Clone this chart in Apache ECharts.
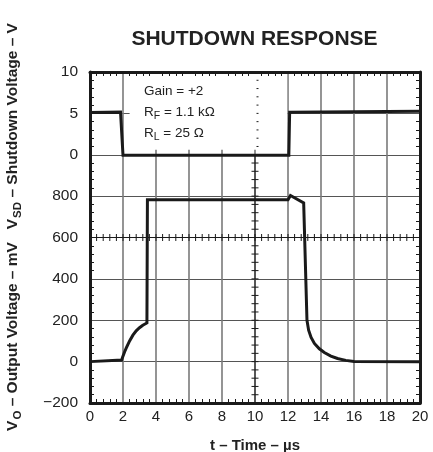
<!DOCTYPE html>
<html><head><meta charset="utf-8">
<script src="https://cdn.jsdelivr.net/npm/echarts@6/dist/echarts.min.js"></script>
<style>html,body{margin:0;padding:0;background:#fff}#c{width:433px;height:452px}</style>
</head><body><div id="c"></div>
<script>
// ---- data ----
const timeRange = [0, 20];            // µs
const timeStep = 2;
const voRange = [-200, 1400];         // mV scale (labels shown -200..800)
const voStep = 200;
const voLabelMax = 800;
const vsdRange = [-30, 10];           // V scale (labels shown 0..10)
const vsdStep = 5;
const vsdLabelMin = 0;
const centerTime = 10;
const centerMV = 600;
// shutdown voltage trace [t (µs), V]
const vsdData = [[0,5.12],[1.85,5.15],[2.0,-0.05],[12.05,-0.05],[12.1,5.15],[20,5.27]];
// output voltage trace [t (µs), mV]
const voData = [[0,0],[1.92,8],[1.98,22],[2.1,48],[2.2,66],[2.4,100],[2.6,128],[2.8,149],[3.0,164],[3.2,176],[3.45,187],
  [3.48,782],[12.0,782],[12.15,803],[12.95,767],[13.15,200],[13.25,152],[13.4,117],[13.6,88],[13.9,62],[14.2,44],
  [14.6,27],[15.0,15],[15.5,6],[16.0,1],[20,0]];
const titleText = 'SHUTDOWN RESPONSE';
const xTitle = 't – Time – µs';

const FONT = '"Liberation Sans", Arial, Helvetica, sans-serif';
const INK = '#1a1a1a';
const GRIDC = '#7a7a7a';

const chart = echarts.init(document.getElementById('c'), null, {renderer:'canvas'});
const frameLine = {show:true, onZero:false, lineStyle:{color:INK, width:3}};
const minor = {show:true, splitNumber:5, length:4, lineStyle:{color:INK, width:1}};
const option = {
  animation:false,
  backgroundColor:'#fff',
  grid:{left:90, right:13, top:72, bottom:49, containLabel:false},
  xAxis:[
    {type:'value', min:timeRange[0], max:timeRange[1], interval:timeStep, position:'bottom', z:1,
     axisLine:frameLine, axisTick:{show:false, inside:true}, minorTick:minor,
     axisLabel:{color:'#222', fontFamily:FONT, fontSize:15, margin:6},
     splitLine:{show:true, showMinLine:false, showMaxLine:false, lineStyle:{color:GRIDC, width:1.6}}},
    {type:'value', min:timeRange[0], max:timeRange[1], interval:timeStep, position:'top', z:6,
     axisLine:frameLine, axisTick:{show:false, inside:true}, minorTick:minor,
     axisLabel:{show:false}, splitLine:{show:false}}
  ],
  yAxis:[
    {type:'value', min:voRange[0], max:voRange[1], interval:voStep, position:'left', z:1,
     axisLine:frameLine, axisTick:{show:false, inside:true}, minorTick:minor,
     axisLabel:{color:'#222', fontFamily:FONT, fontSize:15.5, margin:12,
       formatter:v => v > voLabelMax ? '' : (v < 0 ? '−' + Math.abs(v) : String(v))},
     splitLine:{show:true, showMinLine:false, showMaxLine:false, lineStyle:{color:'#555', width:1}}},
    {type:'value', min:vsdRange[0], max:vsdRange[1], interval:vsdStep, position:'left',
     axisLine:{show:false}, axisTick:{show:false},
     axisLabel:{color:'#222', fontFamily:FONT, fontSize:15.5, margin:12,
       formatter:v => v < vsdLabelMin ? '' : String(v)},
     splitLine:{show:false}},
    {type:'value', min:voRange[0], max:voRange[1], interval:voStep, position:'right', z:6,
     axisLine:frameLine, axisTick:{show:false, inside:true}, minorTick:minor,
     axisLabel:{show:false}, splitLine:{show:false}}
  ],
  graphic:[
    {type:'text', x:254.5, y:39, z:10,
     style:{text:titleText, font:'bold 21px ' + FONT, fill:'#222', align:'center', verticalAlign:'middle'}},
    {type:'text', x:13, y:227, rotation:Math.PI/2, z:10,
     style:{text:'V{s|O} – Output Voltage – mV   V{s|SD} – Shutdown Voltage – V',
       font:'bold 15.5px ' + FONT, fill:'#222', align:'center', verticalAlign:'middle',
       rich:{s:{fontSize:11.5, fontWeight:'bold', fontFamily:FONT, fill:'#222', padding:[9,0,0,1]}}}},
    {type:'text', x:255, y:446, z:10,
     style:{text:xTitle, font:'bold 15px ' + FONT, fill:'#222', align:'center', verticalAlign:'middle'}},
    {type:'text', x:144, y:91, z:10,
     style:{text:'Gain = +2', font:'13.5px ' + FONT, fill:'#222', align:'left', verticalAlign:'middle'}},
    {type:'text', x:144, y:112, z:10,
     style:{text:'R{s|F} = 1.1 kΩ', font:'13.5px ' + FONT, fill:'#222', align:'left', verticalAlign:'middle',
       rich:{s:{fontSize:10.5, fontFamily:FONT, fill:'#222', padding:[8,0,0,0]}}}},
    {type:'text', x:144, y:133, z:10,
     style:{text:'R{s|L} = 25 Ω', font:'13.5px ' + FONT, fill:'#222', align:'left', verticalAlign:'middle',
       rich:{s:{fontSize:10.5, fontFamily:FONT, fill:'#222', padding:[8,0,0,0]}}}}
  ],
  series:[
    {type:'line', name:'VSD', xAxisIndex:0, yAxisIndex:1, data:vsdData, showSymbol:false, z:5,
     lineStyle:{color:INK, width:3, join:'miter'},
     markArea:{silent:true, itemStyle:{color:'#fff'}, data:[[{coord:[2.4, 10]}, {coord:[11.95, 0.6]}]]}},
    {type:'line', name:'VO', xAxisIndex:0, yAxisIndex:0, data:voData, showSymbol:false, z:5,
     lineStyle:{color:INK, width:3, join:'miter'}},
    {type:'custom', name:'crosshair', xAxisIndex:0, yAxisIndex:0, z:4, silent:true, clip:false,
     data:[[centerTime, centerMV]],
     renderItem:function(params, api){
       const ch = [];
       const L = 3.5;
       const ln = (x1,y1,x2,y2) => ({type:'line', shape:{x1,y1,x2,y2}, style:{stroke:INK, lineWidth:1}});
       const a = api.coord([timeRange[0], centerMV]), b = api.coord([timeRange[1], centerMV]);
       ch.push(ln(a[0], a[1], b[0], b[1]));
       const dt = timeStep/5;
       for (let i = 1; i < (timeRange[1]-timeRange[0])/dt; i++) {
         const p = api.coord([timeRange[0] + i*dt, centerMV]);
         ch.push(ln(p[0], p[1]-L, p[0], p[1]+L));
       }
       const zeroV = voRange[1] - (vsdRange[1]-0)/vsdStep*voStep; // V=0 on the mV scale
       const c0 = api.coord([centerTime, voRange[0]]), c1 = api.coord([centerTime, zeroV]);
       ch.push(ln(c0[0], c0[1], c1[0], c1[1]));
       const dm = voStep/5;
       for (let m = voRange[0] + dm; m < voRange[1] - 1e-6; m += dm) {
         const p = api.coord([centerTime, m]);
         if (m <= zeroV) ch.push(ln(p[0]-L, p[1], p[0]+L, p[1]));
         else ch.push(ln(p[0]+1.5, p[1], p[0]+3.5, p[1]));
       }
       return {type:'group', children:ch};
     }}
  ]
};
chart.setOption(option);
</script></body></html>
